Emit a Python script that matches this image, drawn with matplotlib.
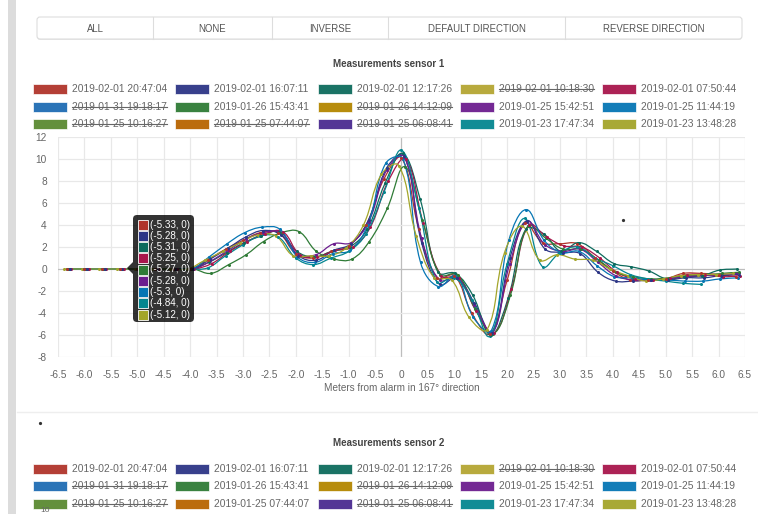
import numpy as np
import matplotlib
matplotlib.use('Agg')
import matplotlib.pyplot as plt
from matplotlib.path import Path
from matplotlib.patches import PathPatch, Rectangle, FancyBboxPatch, Polygon

########################################################################################################################
# data
LABELS = ['2019-02-01 20:47:04', '2019-02-01 16:07:11', '2019-02-01 12:17:26', '2019-02-01 10:18:30',
          '2019-02-01 07:50:44', '2019-01-31 19:18:17', '2019-01-26 15:43:41', '2019-01-26 14:12:09',
          '2019-01-25 15:42:51', '2019-01-25 11:44:19', '2019-01-25 10:16:27', '2019-01-25 07:44:07',
          '2019-01-25 06:08:41', '2019-01-23 17:47:34', '2019-01-23 13:48:28']
COLORS = ['#b0342b', '#2d3686', '#0d6b5d', '#b4a632', '#a8164c',
          '#1f6db3', '#2f7b36', '#b38600', '#6c1d8e', '#0676b4',
          '#5b8a31', '#b86400', '#4a2a8f', '#04868f', '#a3a52a']
HIDDEN_1 = [0, 0, 0, 1, 0, 1, 0, 1, 0, 0, 1, 1, 1, 0, 0]
HIDDEN_2 = [0, 0, 0, 1, 0, 1, 0, 1, 0, 0, 1, 0, 1, 0, 0]

BUTTONS = ['ALL', 'NONE', 'INVERSE', 'DEFAULT DIRECTION', 'REVERSE DIRECTION']

# sample positions (meters), each measurement slightly shifted
X_BASE = [-6.33, -6.0, -5.67, -5.33, -5.0, -4.67, -4.33, -4.0, -3.67, -3.33, -3.0, -2.67, -2.33, -2.0,
          -1.67, -1.33, -1.0, -0.67, -0.33, 0.0, 0.33, 0.67, 1.0, 1.33, 1.67, 2.0, 2.33, 2.67, 3.0, 3.33,
          3.67, 4.0, 4.33, 4.67, 5.0, 5.33, 5.67, 6.0, 6.33]
ZEROS = [0, 0, 0, 0, 0, 0, 0, 0]

Y_2047 = ZEROS + [0.8, 1.8, 2.6, 3.3, 3.3, 1.4, 1.0, 1.6, 2.1, 4.0, 8.2, 10.1, 3.6, -0.8, -0.6,
                  -4.0, -5.9, -1.0, 4.2, 2.4, 2.3, 2.3, 1.0, -0.2, -1.0, -1.0, -0.9, -0.4, -0.4, -0.5, -0.7]
Y_1607 = ZEROS + [0.9, 1.9, 2.9, 3.5, 3.1, 1.2, 0.8, 1.7, 2.3, 4.5, 9.2, 10.3, 2.4, -1.4, -0.8,
                  -3.1, -5.8, 1.0, 4.4, 1.8, 1.5, 1.4, -0.3, -1.1, -1.1, -1.0, -1.0, -0.8, -0.8, -0.6, -0.5]
Y_1217 = ZEROS + [0.6, 1.5, 2.4, 3.0, 3.4, 1.6, 1.1, 1.6, 2.0, 3.6, 7.8, 10.5, 6.4, -0.3, -0.4,
                  -2.4, -6.0, -2.6, 3.6, 3.2, 1.6, 2.4, 1.6, 0.5, 0.2, -0.2, -0.9, -0.7, -0.6, -0.1, 0.0]
Y_0750 = ZEROS + [0.5, 1.6, 2.5, 3.2, 3.4, 1.3, 1.1, 1.7, 2.0, 3.8, 8.0, 10.0, 4.2, -0.6, -0.8,
                  -3.8, -5.8, -1.8, 4.0, 2.9, 2.1, 2.0, 1.0, -0.3, -0.9, -1.0, -0.8, -0.5, -0.5, -0.7, -0.6]
Y_1543 = ZEROS + [-0.4, 0.4, 1.3, 2.5, 3.3, 3.4, 1.6, 0.9, 0.9, 2.5, 5.5, 9.3, 4.5, -0.5, -0.5,
                  -3.6, -5.9, -2.4, 3.9, 2.8, 1.8, 1.8, 0.8, -0.3, -0.7, -0.9, -0.8, -0.6, -0.6, -0.4, -0.3]
Y_1542 = ZEROS + [0.7, 1.7, 2.7, 3.3, 3.3, 1.3, 1.3, 2.3, 2.4, 4.3, 9.0, 10.2, 2.8, -1.0, -0.8,
                  -3.3, -5.8, 0.5, 4.3, 2.2, 1.6, 1.8, 0.6, -0.6, -1.0, -1.0, -0.9, -0.7, -0.6, -0.5, -0.4]
Y_1144 = ZEROS + [1.1, 2.3, 3.3, 3.8, 3.6, 1.1, 0.6, 1.4, 1.7, 4.0, 9.6, 10.0, 0.6, -1.6, -0.6,
                  -4.4, -5.6, 2.6, 5.4, 2.6, 1.5, 1.6, 0.3, -0.7, -0.8, -1.0, -1.0, -1.1, -1.1, -0.9, -0.8]
Y_1747 = ZEROS + [0.1, 1.2, 2.2, 3.0, 2.9, 1.0, 0.4, 1.0, 1.6, 3.2, 7.0, 10.8, 5.5, -1.2, -0.8,
                  -2.8, -6.1, 0.5, 4.6, 0.2, 1.5, 2.0, 1.0, 0.3, -0.5, -0.9, -1.1, -1.3, -1.4]
Y_1348 = ZEROS + [0.8, 1.6, 2.4, 3.1, 3.0, 1.2, 1.2, 1.2, 1.9, 4.0, 8.6, 9.4, 3.0, -0.8, -1.0,
                  -4.4, -5.5, 1.5, 3.9, 0.8, 1.3, 0.9, 0.8, 0.0, -0.6, -1.1, -0.9, -0.6, -0.5, -0.5, -0.4]

VISIBLE = [0, 1, 2, 4, 6, 8, 9, 13, 14]   # index into LABELS / COLORS
SERIES = [Y_2047, Y_1607, Y_1217, Y_0750, Y_1543, Y_1542, Y_1144, Y_1747, Y_1348]
X_SHIFT = [0.0, 0.05, 0.02, 0.08, 0.06, 0.05, 0.03, 0.0, -0.05]

TOOLTIP_X = [-5.33, -5.28, -5.31, -5.25, -5.27, -5.28, -5.3, -4.84, -5.12]

X_TICKS = [-6.5, -6.0, -5.5, -5.0, -4.5, -4.0, -3.5, -3.0, -2.5, -2.0, -1.5, -1.0, -0.5, 0,
           0.5, 1.0, 1.5, 2.0, 2.5, 3.0, 3.5, 4.0, 4.5, 5.0, 5.5, 6.0, 6.5]
Y_TICKS = [-8, -6, -4, -2, 0, 2, 4, 6, 8, 10, 12]

########################################################################################################################
W, H = 758, 514
plt.rcParams['font.family'] = ['Liberation Sans', 'DejaVu Sans']
fig = plt.figure(figsize=(W / 100, H / 100), dpi=100)
fig.patch.set_facecolor('white')

# plot area in pixels
L, R, T, B = 58, 745, 137, 357
ax = fig.add_axes([L / W, 1 - B / H, (R - L) / W, (B - T) / H])
ax.set_xlim(-6.5, 6.5)
ax.set_ylim(-8, 12)
for s in ax.spines.values():
    s.set_visible(False)
ax.set_xticks(X_TICKS)
ax.set_xticklabels(['0' if v == 0 else '%.1f' % v for v in X_TICKS])
ax.set_yticks(Y_TICKS)
ax.set_yticklabels(['%d' % v for v in Y_TICKS])
ax.tick_params(length=0, labelsize=7.3, labelcolor='#666666')
ax.tick_params(axis='x', pad=9)
ax.tick_params(axis='y', pad=8)

# grid, zero lines a bit darker
for v in X_TICKS:
    ax.axvline(v, color='#bdbdbd' if v == 0 else '#e8e8e8', lw=0.9, zorder=0)
for v in Y_TICKS:
    ax.axhline(v, color='#bdbdbd' if v == 0 else '#e8e8e8', lw=0.9, zorder=0)

# chart.js style bezier through points (tension 0.4, computed in pixel space)
sx = (R - L) / 13.0
sy = (B - T) / 20.0


def spline_path(xs, ys, t=0.4):
    P = np.column_stack([np.asarray(xs) * sx, np.asarray(ys) * sy])
    n = len(P)
    cin = np.zeros_like(P)
    cout = np.zeros_like(P)
    for i in range(n):
        prev = P[i - 1] if i > 0 else P[i]
        nxt = P[i + 1] if i < n - 1 else P[i]
        d01 = np.hypot(*(P[i] - prev))
        d12 = np.hypot(*(nxt - P[i]))
        tot = d01 + d12
        s01 = d01 / tot if tot else 0
        s12 = d12 / tot if tot else 0
        cin[i] = P[i] - t * s01 * (nxt - prev)
        cout[i] = P[i] + t * s12 * (nxt - prev)
    verts = [P[0]]
    codes = [Path.MOVETO]
    for i in range(1, n):
        verts += [cout[i - 1], cin[i], P[i]]
        codes += [Path.CURVE4] * 3
    verts = np.array(verts) / [sx, sy]
    return Path(verts, codes)


for k in range(len(SERIES) - 1, -1, -1):
    ys = SERIES[k]
    xs = [x + X_SHIFT[k] for x in X_BASE[:len(ys)]]
    col = COLORS[VISIBLE[k]]
    ax.add_patch(PathPatch(spline_path(xs, ys), fill=False, edgecolor=col, lw=0.9, zorder=2 + k * 0.01))
    ax.plot(xs, ys, 'o', ms=2.2, color=col, mec='none', zorder=3)

########################################################################################################################
# overlay in figure pixels for the html parts around the chart
ov = fig.add_axes([0, 0, 1, 1], zorder=10)
ov.set_xlim(0, W)
ov.set_ylim(H, 0)
ov.axis('off')
ov.patch.set_visible(False)

# grey side bar
ov.add_patch(Rectangle((8, 0), 8, H, fc='#dcdcdc', ec='none'))

# button group
bx = [37, 153, 272, 388, 565, 742]
ov.add_patch(FancyBboxPatch((bx[0], 18), bx[-1] - bx[0], 22, boxstyle='round,pad=0,rounding_size=3',
                            fc='#d8d8d8', ec='none', alpha=0.6))
ov.add_patch(FancyBboxPatch((bx[0], 17), bx[-1] - bx[0], 22, boxstyle='round,pad=0,rounding_size=3',
                            fc='white', ec='#dddddd', lw=0.8))
for i, name in enumerate(BUTTONS):
    if i > 0:
        ov.plot([bx[i], bx[i]], [17, 39], color='#dddddd', lw=0.8)
    ov.text((bx[i] + bx[i + 1]) / 2, 28.5, name, ha='center', va='center', fontsize=6.9, color='#555555')

renderer = fig.canvas.get_renderer()


def draw_legend(title_y, hidden):
    ov.text(389, title_y, 'Measurements sensor ' + ('1' if hidden is HIDDEN_1 else '2'), ha='center',
            va='center', fontsize=7, fontweight='bold', color='#444444')
    y0 = title_y + 25
    for k, lab in enumerate(LABELS):
        x = 33 + (k % 5) * 142.3
        y = y0 + (k // 5) * 17.6
        ov.add_patch(Rectangle((x, y - 5), 34, 10, fc=COLORS[k], ec='white', lw=0.5, alpha=0.95))
        t = ov.text(x + 39, y, lab, ha='left', va='center', fontsize=7.4, color='#666666')
        if hidden[k]:
            bb = t.get_window_extent(renderer=renderer)
            ov.plot([bb.x0, bb.x1], [y, y], color='#666666', lw=0.8)


draw_legend(64, HIDDEN_1)

# x axis title
ov.text((L + R) / 2, 388, 'Meters from alarm in 167\u00b0 direction', ha='center', va='center',
        fontsize=7.2, color='#666666')

# tooltip
ov.add_patch(FancyBboxPatch((133, 215), 61, 107, boxstyle='round,pad=0,rounding_size=4',
                            fc=(0, 0, 0, 0.8), ec='none'))
ov.add_patch(Polygon([(133, 262), (127, 268), (133, 274)], closed=True, fc=(0, 0, 0, 0.8), ec='none'))
for i, xv in enumerate(TOOLTIP_X):
    yy = 224.5 + i * 11.25
    ov.add_patch(Rectangle((137.5, yy - 5), 10, 10, fc=COLORS[VISIBLE[i]], ec='white', lw=0.6))
    ov.text(150, yy, '(%g, 0)' % xv, ha='left', va='center', fontsize=7.1, color='white')

# separator and second chart header
ov.plot([17, W], [412, 412], color='#eeeeee', lw=1)
ov.plot([40], [423], 'o', ms=1.3, color='#333333')
ov.plot([623], [220], 'o', ms=1.3, color='#333333')
draw_legend(443.5, HIDDEN_2)
# top tick label of the second chart, just peeking in at the bottom edge
ov.text(50, 513.5, '10', ha='right', va='bottom', fontsize=6, color='#666666')

fig.savefig('out.png', dpi=100)
